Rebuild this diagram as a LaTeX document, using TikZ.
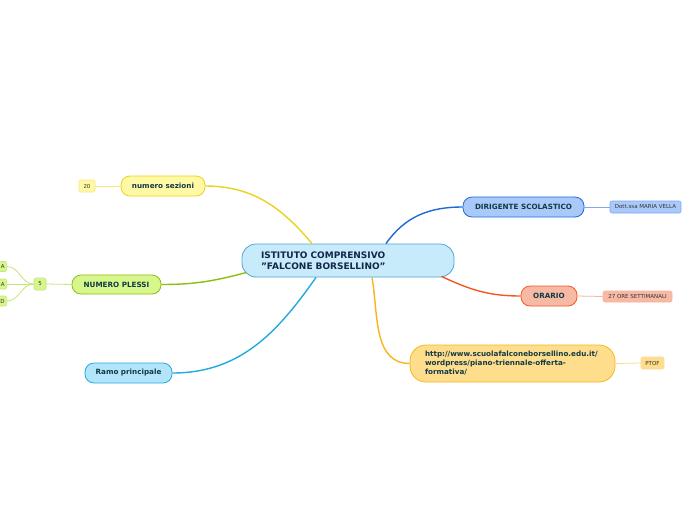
\documentclass[tikz,border=0pt]{standalone}
\usepackage{fontspec}
\setmainfont{DejaVu Sans}
\definecolor{txt}{HTML}{123A45}
\definecolor{ctxt}{HTML}{14264A}
\definecolor{ltxt}{HTML}{333333}
\definecolor{cfill}{HTML}{C8EBFB}\definecolor{cdraw}{HTML}{4FA5D8}
\definecolor{yfill}{HTML}{FFF9A6}\definecolor{ydraw}{HTML}{EAD21E}\definecolor{ylite}{HTML}{F6EA80}
\definecolor{gfill}{HTML}{D7F68B}\definecolor{gdraw}{HTML}{8CBF0E}\definecolor{glite}{HTML}{C5E77A}
\definecolor{bfill}{HTML}{B3E5FA}\definecolor{bdraw}{HTML}{21AAE1}
\definecolor{dfill}{HTML}{A9C9FA}\definecolor{ddraw}{HTML}{1E6AD8}\definecolor{dlite}{HTML}{7FA8F0}
\definecolor{ofill}{HTML}{F8B9A4}\definecolor{odraw}{HTML}{F05A22}\definecolor{olite}{HTML}{F7B5A0}
\definecolor{ufill}{HTML}{FEDD8D}\definecolor{udraw}{HTML}{F6B71A}\definecolor{ulite}{HTML}{F9DC90}
\begin{document}
\begin{tikzpicture}[x=1pt,y=-1pt,
  topic/.style={rounded corners=9pt, line width=0.8pt, inner sep=0pt, text=txt,
    font=\bfseries\fontsize{7.2}{9}\selectfont},
  leaf/.style={rounded corners=2pt, line width=0.6pt, inner sep=0pt, text=ltxt,
    font=\fontsize{5.5}{6.5}\selectfont},
  branch/.style={line width=1.4pt},
  twig/.style={line width=0.8pt}]
\useasboundingbox[fill=white] (0,0) rectangle (696,520);

% central
\node[draw=cdraw, fill=cfill, rounded corners=14pt, line width=0.8pt, inner xsep=19pt, inner ysep=0pt,
  text width=174pt, minimum height=33pt, align=left, text=ctxt,
  font=\bfseries\fontsize{9}{11}\selectfont] (c) at (348,260.5)
  {ISTITUTO COMPRENSIVO\\{\char34}FALCONE BORSELLINO{\char34}};

% topics
\node[topic, draw=ydraw, fill=yfill, minimum width=84pt, minimum height=20pt] (s) at (163,186) {numero sezioni};
\node[topic, draw=gdraw, fill=gfill, minimum width=89pt, minimum height=19pt] (p) at (116.5,284.5) {NUMERO PLESSI};
\node[topic, draw=bdraw, fill=bfill, minimum width=87pt, minimum height=20pt] (r) at (128.5,373) {Ramo principale};
\node[topic, draw=ddraw, fill=dfill, minimum width=121pt, minimum height=20pt] (d) at (523.5,207) {DIRIGENTE SCOLASTICO};
\node[topic, draw=odraw, fill=ofill, minimum width=56pt, minimum height=20pt] (o) at (549,296) {ORARIO};
\node[topic, draw=udraw, fill=ufill, rounded corners=16pt, inner xsep=15pt, text width=175pt,
  minimum height=37pt, align=left, font=\bfseries\fontsize{7.2}{9}\selectfont] (u) at (512.5,363.5)
  {http://www.scuolafalconeborsellino.edu.it/\\wordpress/piano-triennale-offerta-\\formativa/};

% leaves
\node[leaf, draw=ylite, fill=yfill, minimum width=16pt, minimum height=12pt] (n20) at (87,186) {20};
\node[leaf, draw=glite, fill=gfill, minimum width=12pt, minimum height=12pt] (n5) at (40,284) {5};
\node[leaf, draw=glite, fill=gfill, minimum height=10pt, inner xsep=2pt, anchor=east] (la) at (7,266.5) {A};
\node[leaf, draw=glite, fill=gfill, minimum height=10pt, inner xsep=2pt, anchor=east] (lb) at (7,284) {A};
\node[leaf, draw=glite, fill=gfill, minimum height=10pt, inner xsep=2pt, anchor=east] (lc) at (7,301) {D};
\node[leaf, draw=dlite, fill=dfill, minimum width=71pt, minimum height=12pt] (mv) at (645.5,207) {Dott.ssa MARIA VELLA};
\node[leaf, draw=olite, fill=ofill, minimum width=69pt, minimum height=11pt] (ore) at (637.5,296.5) {27 ORE SETTIMANALI};
\node[leaf, draw=ulite, fill=ufill, minimum width=23pt, minimum height=12pt] (pt) at (652.5,363) {PTOF};

% branches
\draw[branch, ydraw] ([xshift=-36pt]c.north) to[out=130,in=0] (s.east);
\draw[branch, gdraw] ([xshift=5pt,yshift=5pt]c.south west) to[out=195,in=0] (p.east);
\draw[branch, bdraw] ([xshift=-32pt]c.south) to[out=235,in=0] (r.east);
\draw[branch, ddraw] ([xshift=38pt]c.north) to[out=55,in=180] (d.west);
\draw[branch, odraw] ([xshift=-13pt,yshift=1pt]c.south east) to[out=-25,in=180] (o.west);
\draw[branch, udraw] ([xshift=24pt]c.south) to[out=-80,in=180] (u.west);

% twigs
\draw[twig, ylite] (s.west) -- (n20.east);
\draw[twig, glite] (p.west) -- (n5.east);
\draw[twig, glite] (n5.west) to[out=180,in=0] (la.east);
\draw[twig, glite] (n5.west) -- (lb.east);
\draw[twig, glite] (n5.west) to[out=180,in=0] (lc.east);
\draw[twig, dlite] (d.east) -- (mv.west);
\draw[twig, olite] (o.east) -- (ore.west);
\draw[twig, ulite] (u.east) -- (pt.west);
\end{tikzpicture}
\end{document}
